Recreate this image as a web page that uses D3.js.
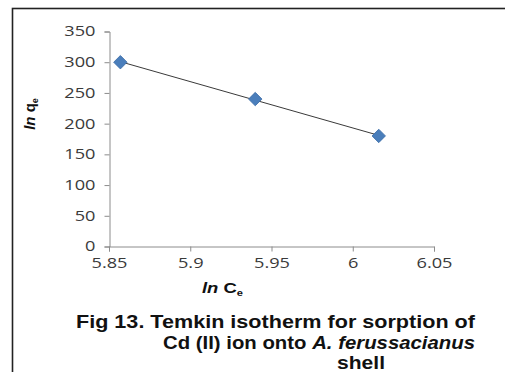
<!DOCTYPE html>
<html>
<head>
<meta charset="utf-8">
<script src="https://cdn.jsdelivr.net/npm/d3@7"></script>
<style>
  html, body { margin: 0; padding: 0; background: #fff; }
  svg { display: block; }
  text { font-family: "Liberation Sans", Arial, sans-serif; }
</style>
</head>
<body>
<svg id="chart" width="505" height="372"></svg>
<script>
// Temkin isotherm data: ln Ce vs ln qe
const lnCe = [5.857, 5.94, 6.016];
const lnQe = [300, 240, 180];
const xTicks = [5.85, 5.9, 5.95, 6, 6.05];
const yTicks = [0, 50, 100, 150, 200, 250, 300, 350];

const svg = d3.select("#chart");

// frame around the figure
svg.append("rect")
  .attr("x", 12.5).attr("y", 8.5)
  .attr("width", 600).attr("height", 500)
  .attr("fill", "none").attr("stroke", "#222").attr("stroke-width", 1.6);

const x = d3.scaleLinear().domain([5.85, 6.05]).range([109, 434]);
const y = d3.scaleLinear().domain([0, 350]).range([246.5, 31.5]);

const axisColor = "#8c8c8c";
const tickFont = "'Open Sans', 'DejaVu Sans', sans-serif";
const stretch = 1.3; // wide tick lettering

// y axis
const yAxis = svg.append("g")
  .attr("transform", "translate(109.5,0)")
  .call(d3.axisLeft(y).tickValues(yTicks).tickSize(5).tickPadding(9).tickFormat(d3.format("d")));
// x axis
const xAxis = svg.append("g")
  .attr("transform", "translate(0,246.5)")
  .call(d3.axisBottom(x).tickValues(xTicks).tickSize(5).tickPadding(7).tickFormat(d => String(d)));

[yAxis, xAxis].forEach(g => {
  g.select(".domain").attr("stroke", axisColor).attr("stroke-width", 1);
  g.selectAll(".tick line").attr("stroke", axisColor);
  g.selectAll(".tick text")
    .attr("fill", "#3a3a3a")
    .style("font-family", tickFont)
    .style("font-size", "14px");
});
// widen the tick labels about their anchor points
yAxis.selectAll(".tick text").each(function () {
  const t = d3.select(this);
  const dx = +t.attr("x");
  t.attr("x", 0).attr("transform", `translate(${dx},0) scale(${stretch},1)`);
});
xAxis.selectAll(".tick text").attr("transform", `scale(${stretch},1)`);

// linear trendline through the points
const mx = d3.mean(lnCe), my = d3.mean(lnQe);
const slope = d3.sum(lnCe.map((v, i) => (v - mx) * (lnQe[i] - my))) /
              d3.sum(lnCe.map(v => (v - mx) * (v - mx)));
const icpt = my - slope * mx;
const [x0, x1] = d3.extent(lnCe);
svg.append("line")
  .attr("x1", x(x0)).attr("y1", y(slope * x0 + icpt))
  .attr("x2", x(x1)).attr("y2", y(slope * x1 + icpt))
  .attr("stroke", "#3a3a3a").attr("stroke-width", 1);

// diamond markers
const diamond = d3.symbol().type(d3.symbolSquare).size(90);
svg.append("g").selectAll("path")
  .data(lnCe.map((v, i) => [v, lnQe[i]]))
  .join("path")
  .attr("d", diamond)
  .attr("transform", d => `translate(${x(d[0])},${y(d[1])}) rotate(45)`)
  .attr("fill", "#4a7ebb")
  .attr("stroke", "#3d6ea8")
  .attr("stroke-width", 0.8);

// axis titles
const yTitle = svg.append("text")
  .attr("transform", "translate(35,114) rotate(-90)")
  .attr("text-anchor", "middle")
  .style("font-size", "15px").style("font-weight", "bold").attr("fill", "#111");
yTitle.append("tspan").style("font-style", "italic").text("ln");
yTitle.append("tspan").text(" q");
yTitle.append("tspan").attr("dy", 3).style("font-size", "9px").text("e");

const xTitle = svg.append("text")
  .attr("x", 202).attr("y", 293)
  .attr("textLength", 41).attr("lengthAdjust", "spacingAndGlyphs")
  .style("font-size", "15px").style("font-weight", "bold").attr("fill", "#111");
xTitle.append("tspan").style("font-style", "italic").text("ln");
xTitle.append("tspan").text(" C");
xTitle.append("tspan").attr("dy", 3).style("font-size", "9px").text("e");

// figure caption
const cap = svg.append("g").style("font-size", "19px").style("font-weight", "bold").attr("fill", "#111");
cap.append("text").attr("x", 76).attr("y", 328)
  .attr("textLength", 399).attr("lengthAdjust", "spacingAndGlyphs")
  .text("Fig 13. Temkin isotherm for sorption of");
const l2 = cap.append("text").attr("x", 163).attr("y", 349)
  .attr("textLength", 312).attr("lengthAdjust", "spacingAndGlyphs");
l2.append("tspan").text("Cd (II) ion onto ");
l2.append("tspan").style("font-style", "italic").text("A. ferussacianus");
cap.append("text").attr("x", 337).attr("y", 369)
  .attr("textLength", 48).attr("lengthAdjust", "spacingAndGlyphs")
  .text("shell");
</script>
</body>
</html>
